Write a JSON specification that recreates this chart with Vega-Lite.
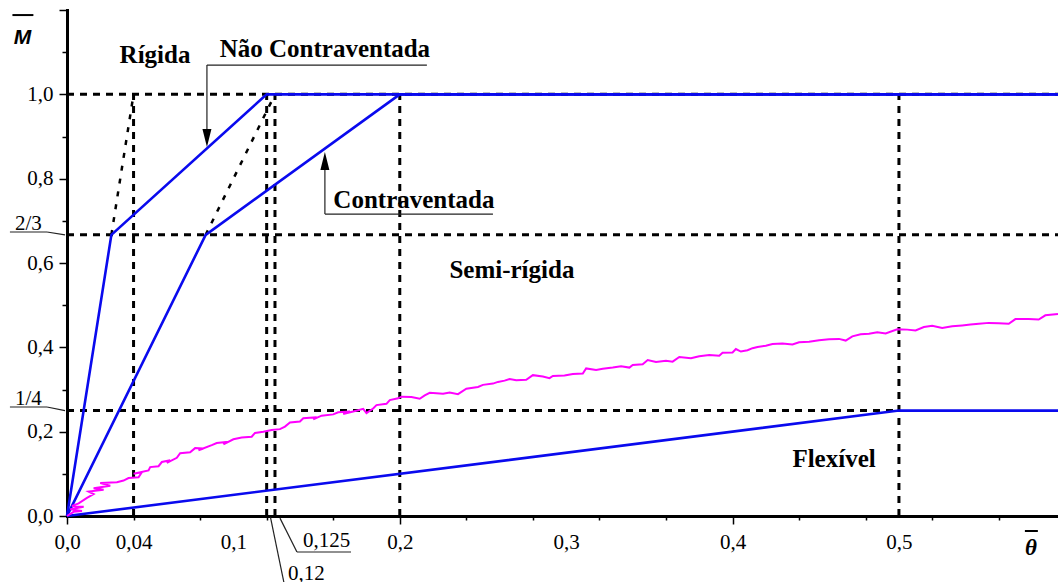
{
  "$schema": "https://vega.github.io/schema/vega-lite/v6.json",
  "width": 991,
  "height": 506,
  "autosize": "none",
  "padding": {"left": 67, "top": 10, "right": 0, "bottom": 66},
  "background": "white",
  "config": {"view": {"stroke": null}, "font": "Liberation Serif"},
  "datasets": {
    "guides": [
      {"x": 0, "x2": 0.5956, "y": 1, "y2": 1},
      {"x": 0, "x2": 0.5956, "y": 0.6667, "y2": 0.6667},
      {"x": 0, "x2": 0.5, "y": 0.25, "y2": 0.25},
      {"x": 0.04, "x2": 0.04, "y": 0, "y2": 1},
      {"x": 0.12, "x2": 0.12, "y": 0, "y2": 1},
      {"x": 0.125, "x2": 0.125, "y": 0, "y2": 1},
      {"x": 0.2, "x2": 0.2, "y": 0, "y2": 1},
      {"x": 0.5, "x2": 0.5, "y": 0, "y2": 1}
    ],
    "extensions": [
      {"x": 0.02667, "x2": 0.04, "y": 0.6667, "y2": 1},
      {"x": 0.08333, "x2": 0.125, "y": 0.6667, "y2": 1}
    ],
    "bounds": [
      {"curve": "Não Contraventada", "i": 0, "x": 0, "y": 0},
      {"curve": "Não Contraventada", "i": 1, "x": 0.02667, "y": 0.6667},
      {"curve": "Não Contraventada", "i": 2, "x": 0.12, "y": 1},
      {"curve": "Não Contraventada", "i": 3, "x": 0.5956, "y": 1},
      {"curve": "Contraventada", "i": 0, "x": 0, "y": 0},
      {"curve": "Contraventada", "i": 1, "x": 0.08333, "y": 0.6667},
      {"curve": "Contraventada", "i": 2, "x": 0.2, "y": 1},
      {"curve": "Contraventada", "i": 3, "x": 0.5956, "y": 1},
      {"curve": "Flexível", "i": 0, "x": 0, "y": 0},
      {"curve": "Flexível", "i": 1, "x": 0.5, "y": 0.25},
      {"curve": "Flexível", "i": 2, "x": 0.5956, "y": 0.25}
    ],
    "ensaio": [
      {"i": 0, "x": 0, "y": 0},
      {"i": 1, "x": 0.004, "y": 0.01},
      {"i": 2, "x": 0.009, "y": 0.012},
      {"i": 3, "x": 0.002, "y": 0.016},
      {"i": 4, "x": 0.01, "y": 0.022},
      {"i": 5, "x": 0.003, "y": 0.024},
      {"i": 6, "x": 0.007, "y": 0.03},
      {"i": 7, "x": 0.012, "y": 0.043},
      {"i": 8, "x": 0.016, "y": 0.052},
      {"i": 9, "x": 0.013, "y": 0.058},
      {"i": 10, "x": 0.022, "y": 0.062},
      {"i": 11, "x": 0.016, "y": 0.066},
      {"i": 12, "x": 0.026, "y": 0.072},
      {"i": 13, "x": 0.02, "y": 0.078},
      {"i": 14, "x": 0.03, "y": 0.08},
      {"i": 15, "x": 0.034, "y": 0.084},
      {"i": 16, "x": 0.037, "y": 0.09},
      {"i": 17, "x": 0.043, "y": 0.092},
      {"i": 18, "x": 0.045, "y": 0.104},
      {"i": 19, "x": 0.04, "y": 0.1},
      {"i": 20, "x": 0.049, "y": 0.108},
      {"i": 21, "x": 0.05, "y": 0.116},
      {"i": 22, "x": 0.055, "y": 0.118},
      {"i": 23, "x": 0.057, "y": 0.128},
      {"i": 24, "x": 0.062, "y": 0.132},
      {"i": 25, "x": 0.06, "y": 0.126},
      {"i": 26, "x": 0.066, "y": 0.138},
      {"i": 27, "x": 0.068, "y": 0.149},
      {"i": 28, "x": 0.074, "y": 0.151},
      {"i": 29, "x": 0.077, "y": 0.161},
      {"i": 30, "x": 0.082, "y": 0.16},
      {"i": 31, "x": 0.079, "y": 0.156},
      {"i": 32, "x": 0.087, "y": 0.168},
      {"i": 33, "x": 0.09, "y": 0.173},
      {"i": 34, "x": 0.097, "y": 0.176},
      {"i": 35, "x": 0.094, "y": 0.17},
      {"i": 36, "x": 0.1, "y": 0.182},
      {"i": 37, "x": 0.105, "y": 0.186},
      {"i": 38, "x": 0.111, "y": 0.188},
      {"i": 39, "x": 0.113, "y": 0.197},
      {"i": 40, "x": 0.118, "y": 0.2},
      {"i": 41, "x": 0.123, "y": 0.204},
      {"i": 42, "x": 0.128, "y": 0.206},
      {"i": 43, "x": 0.131, "y": 0.212},
      {"i": 44, "x": 0.134, "y": 0.222},
      {"i": 45, "x": 0.14, "y": 0.224},
      {"i": 46, "x": 0.142, "y": 0.232},
      {"i": 47, "x": 0.15, "y": 0.234},
      {"i": 48, "x": 0.148, "y": 0.229},
      {"i": 49, "x": 0.153, "y": 0.238},
      {"i": 50, "x": 0.16, "y": 0.241},
      {"i": 51, "x": 0.163, "y": 0.246},
      {"i": 52, "x": 0.17, "y": 0.248},
      {"i": 53, "x": 0.166, "y": 0.242},
      {"i": 54, "x": 0.175, "y": 0.251},
      {"i": 55, "x": 0.178, "y": 0.254},
      {"i": 56, "x": 0.18, "y": 0.244},
      {"i": 57, "x": 0.184, "y": 0.255},
      {"i": 58, "x": 0.186, "y": 0.263},
      {"i": 59, "x": 0.192, "y": 0.266},
      {"i": 60, "x": 0.194, "y": 0.275},
      {"i": 61, "x": 0.199, "y": 0.279},
      {"i": 62, "x": 0.201, "y": 0.283},
      {"i": 63, "x": 0.207, "y": 0.282},
      {"i": 64, "x": 0.212, "y": 0.278},
      {"i": 65, "x": 0.215, "y": 0.286},
      {"i": 66, "x": 0.218, "y": 0.292},
      {"i": 67, "x": 0.226, "y": 0.29},
      {"i": 68, "x": 0.23, "y": 0.293},
      {"i": 69, "x": 0.235, "y": 0.289},
      {"i": 70, "x": 0.24, "y": 0.302},
      {"i": 71, "x": 0.247, "y": 0.306},
      {"i": 72, "x": 0.25, "y": 0.311},
      {"i": 73, "x": 0.256, "y": 0.314},
      {"i": 74, "x": 0.259, "y": 0.318},
      {"i": 75, "x": 0.263, "y": 0.321},
      {"i": 76, "x": 0.266, "y": 0.325},
      {"i": 77, "x": 0.27, "y": 0.322},
      {"i": 78, "x": 0.276, "y": 0.323},
      {"i": 79, "x": 0.28, "y": 0.334},
      {"i": 80, "x": 0.286, "y": 0.331},
      {"i": 81, "x": 0.29, "y": 0.327},
      {"i": 82, "x": 0.292, "y": 0.332},
      {"i": 83, "x": 0.299, "y": 0.333},
      {"i": 84, "x": 0.304, "y": 0.337},
      {"i": 85, "x": 0.31, "y": 0.338},
      {"i": 86, "x": 0.312, "y": 0.35},
      {"i": 87, "x": 0.318, "y": 0.346},
      {"i": 88, "x": 0.322, "y": 0.349},
      {"i": 89, "x": 0.328, "y": 0.352},
      {"i": 90, "x": 0.333, "y": 0.355},
      {"i": 91, "x": 0.338, "y": 0.352},
      {"i": 92, "x": 0.34, "y": 0.358},
      {"i": 93, "x": 0.346, "y": 0.36},
      {"i": 94, "x": 0.349, "y": 0.37},
      {"i": 95, "x": 0.354, "y": 0.365},
      {"i": 96, "x": 0.36, "y": 0.368},
      {"i": 97, "x": 0.364, "y": 0.366},
      {"i": 98, "x": 0.368, "y": 0.377},
      {"i": 99, "x": 0.375, "y": 0.374},
      {"i": 100, "x": 0.38, "y": 0.379},
      {"i": 101, "x": 0.386, "y": 0.382},
      {"i": 102, "x": 0.392, "y": 0.38},
      {"i": 103, "x": 0.394, "y": 0.387},
      {"i": 104, "x": 0.4, "y": 0.388},
      {"i": 105, "x": 0.402, "y": 0.396},
      {"i": 106, "x": 0.405, "y": 0.39},
      {"i": 107, "x": 0.409, "y": 0.393},
      {"i": 108, "x": 0.412, "y": 0.398},
      {"i": 109, "x": 0.415, "y": 0.401},
      {"i": 110, "x": 0.42, "y": 0.404},
      {"i": 111, "x": 0.424, "y": 0.408},
      {"i": 112, "x": 0.43, "y": 0.409},
      {"i": 113, "x": 0.436, "y": 0.407},
      {"i": 114, "x": 0.44, "y": 0.412},
      {"i": 115, "x": 0.446, "y": 0.413},
      {"i": 116, "x": 0.452, "y": 0.417},
      {"i": 117, "x": 0.458, "y": 0.419},
      {"i": 118, "x": 0.464, "y": 0.42},
      {"i": 119, "x": 0.468, "y": 0.416},
      {"i": 120, "x": 0.472, "y": 0.426},
      {"i": 121, "x": 0.477, "y": 0.431},
      {"i": 122, "x": 0.482, "y": 0.432},
      {"i": 123, "x": 0.487, "y": 0.436},
      {"i": 124, "x": 0.492, "y": 0.433},
      {"i": 125, "x": 0.499, "y": 0.443},
      {"i": 126, "x": 0.505, "y": 0.442},
      {"i": 127, "x": 0.51, "y": 0.44},
      {"i": 128, "x": 0.515, "y": 0.448},
      {"i": 129, "x": 0.52, "y": 0.451},
      {"i": 130, "x": 0.526, "y": 0.446},
      {"i": 131, "x": 0.532, "y": 0.45},
      {"i": 132, "x": 0.538, "y": 0.452},
      {"i": 133, "x": 0.543, "y": 0.454},
      {"i": 134, "x": 0.548, "y": 0.456},
      {"i": 135, "x": 0.554, "y": 0.458},
      {"i": 136, "x": 0.56, "y": 0.457},
      {"i": 137, "x": 0.566, "y": 0.456},
      {"i": 138, "x": 0.57, "y": 0.467},
      {"i": 139, "x": 0.578, "y": 0.467},
      {"i": 140, "x": 0.584, "y": 0.466},
      {"i": 141, "x": 0.588, "y": 0.476},
      {"i": 142, "x": 0.5956, "y": 0.479}
    ],
    "notes": [
      {"x": 0.0529, "y": 1.093, "text": "Rígida"},
      {"x": 0.155, "y": 1.107, "text": "Não Contraventada"},
      {"x": 0.2085, "y": 0.749, "text": "Contraventada"},
      {"x": 0.2674, "y": 0.583, "text": "Semi-rígida"},
      {"x": 0.461, "y": 0.135, "text": "Flexível"}
    ],
    "leaders": [
      {"x": 0.0841, "y": 1.0695, "x2": 0.2163, "y2": 1.0695},
      {"x": 0.0841, "y": 1.0695, "x2": 0.0841, "y2": 0.9177},
      {"x": 0.155, "y": 0.716, "x2": 0.256, "y2": 0.716},
      {"x": 0.155, "y": 0.716, "x2": 0.155, "y2": 0.8205},
      {"x": 0.1223, "y": -0.003, "x2": 0.1313, "y2": -0.1755},
      {"x": 0.128, "y": -0.005, "x2": 0.1382, "y2": -0.0854},
      {"x": 0.1382, "y": -0.0854, "x2": 0.1707, "y2": -0.0854},
      {"x": -0.0343, "y": 0.6735, "x2": -0.012, "y2": 0.6735},
      {"x": -0.012, "y": 0.6735, "x2": -0.0012, "y2": 0.6667},
      {"x": -0.0343, "y": 0.2585, "x2": -0.012, "y2": 0.2585},
      {"x": -0.012, "y": 0.2585, "x2": -0.0012, "y2": 0.25}
    ],
    "arrows": [
      {"x": 0.0841, "y": 0.8964, "dir": "down"},
      {"x": 0.155, "y": 0.8418, "dir": "up"}
    ],
    "marks": [
      {"x": 0.1328, "y": -0.1518, "text": "0,12"},
      {"x": 0.1418, "y": -0.0735, "text": "0,125"},
      {"x": -0.03125, "y": 0.678, "text": "2/3"},
      {"x": -0.03125, "y": 0.263, "text": "1/4"}
    ],
    "bars": [
      {"x": -0.0328, "x2": -0.0202, "y": 1.188},
      {"x": 0.5757, "x2": 0.5835, "y": -0.0356}
    ]
  },
  "resolve": {"axis": {"x": "independent", "y": "independent"}},
  "layer": [
    {
      "layer": [
        {
          "data": {"name": "guides"},
          "mark": {"type": "rule", "color": "black", "strokeWidth": 3, "strokeDash": [7, 6]},
          "encoding": {
            "x": {
              "field": "x", "type": "quantitative",
              "scale": {"domain": [0, 0.5956], "nice": false, "zero": false},
              "axis": {
                "title": null, "grid": false, "orient": "bottom", "labels": false,
                "values": [0, 0.01, 0.02, 0.03, 0.04, 0.05, 0.06, 0.07, 0.08, 0.09, 0.1, 0.11, 0.12, 0.13, 0.14, 0.15, 0.16, 0.17, 0.18, 0.19, 0.2, 0.21, 0.22, 0.23, 0.24, 0.25, 0.26, 0.27, 0.28, 0.29, 0.3, 0.31, 0.32, 0.33, 0.34, 0.35, 0.36, 0.37, 0.38, 0.39, 0.4, 0.41, 0.42, 0.43, 0.44, 0.45, 0.46, 0.47, 0.48, 0.49, 0.5, 0.51, 0.52, 0.53, 0.54, 0.55, 0.56, 0.57, 0.58, 0.59],
                "domainColor": "black", "domainWidth": 3, "domainCap": "square",
                "tickColor": "black", "tickWidth": 1.5,
                "tickSize": {"condition": {"test": "abs(datum.value * 10 - round(datum.value * 10)) < 1e-6", "value": 8}, "value": 4}
              }
            },
            "y": {
              "field": "y", "type": "quantitative",
              "scale": {"domain": [0, 1.2], "nice": false, "zero": false},
              "axis": {
                "title": null, "grid": false, "orient": "left", "labels": false,
                "values": [0, 0.05, 0.1, 0.15, 0.2, 0.25, 0.3, 0.35, 0.4, 0.45, 0.5, 0.55, 0.6, 0.65, 0.7, 0.75, 0.8, 0.85, 0.9, 0.95, 1, 1.05, 1.1, 1.15, 1.2],
                "domainColor": "black", "domainWidth": 3, "domainCap": "square",
                "tickColor": "black", "tickWidth": 1.5,
                "tickSize": {"condition": {"test": "abs(datum.value * 5 - round(datum.value * 5)) < 1e-6", "value": 8}, "value": 5}
              }
            },
            "x2": {"field": "x2"},
            "y2": {"field": "y2"}
          }
        },
        {
          "data": {"name": "extensions"},
          "mark": {"type": "rule", "color": "black", "strokeWidth": 2.5, "strokeDash": [5, 8]},
          "encoding": {
            "x": {"field": "x", "type": "quantitative"},
            "y": {"field": "y", "type": "quantitative"},
            "x2": {"field": "x2"},
            "y2": {"field": "y2"}
          }
        },
        {
          "data": {"name": "bounds"},
          "mark": {"type": "line", "color": "#0a0aee", "strokeWidth": 2.6},
          "encoding": {
            "x": {"field": "x", "type": "quantitative"},
            "y": {"field": "y", "type": "quantitative"},
            "detail": {"field": "curve"},
            "order": {"field": "i", "type": "quantitative"}
          }
        },
        {
          "data": {"name": "leaders"},
          "mark": {"type": "rule", "color": "#222222", "strokeWidth": 1.2},
          "encoding": {
            "x": {"field": "x", "type": "quantitative"},
            "y": {"field": "y", "type": "quantitative"},
            "x2": {"field": "x2"},
            "y2": {"field": "y2"}
          }
        },
        {
          "data": {"name": "arrows"},
          "mark": {"type": "point", "filled": true, "color": "black", "opacity": 1, "size": 324, "strokeWidth": 0},
          "encoding": {
            "x": {"field": "x", "type": "quantitative"},
            "y": {"field": "y", "type": "quantitative"},
            "shape": {
              "field": "dir", "type": "nominal", "legend": null,
              "scale": {"domain": ["down", "up"], "range": ["M-0.5,-1L0.5,-1L0,1Z", "M-0.5,1L0.5,1L0,-1Z"]}
            }
          }
        },
        {
          "data": {"name": "notes"},
          "mark": {"type": "text", "font": "Liberation Serif", "fontWeight": "bold", "fontSize": 25, "align": "center", "baseline": "middle", "color": "black"},
          "encoding": {
            "x": {"field": "x", "type": "quantitative"},
            "y": {"field": "y", "type": "quantitative"},
            "text": {"field": "text"}
          }
        },
        {
          "data": {"name": "marks"},
          "mark": {"type": "text", "font": "Liberation Serif", "fontSize": 21, "align": "left", "baseline": "alphabetic", "color": "black"},
          "encoding": {
            "x": {"field": "x", "type": "quantitative"},
            "y": {"field": "y", "type": "quantitative"},
            "text": {"field": "text"}
          }
        },
        {
          "data": {"values": [{"x": -0.0267, "y": 1.119, "text": "M"}]},
          "mark": {"type": "text", "font": "Liberation Sans", "fontWeight": "bold", "fontStyle": "italic", "fontSize": 21, "align": "center", "baseline": "alphabetic", "color": "black"},
          "encoding": {
            "x": {"field": "x", "type": "quantitative"},
            "y": {"field": "y", "type": "quantitative"},
            "text": {"field": "text"}
          }
        },
        {
          "data": {"values": [{"x": 0.5793, "y": -0.0925, "text": "θ"}]},
          "mark": {"type": "text", "font": "Liberation Serif", "fontWeight": "bold", "fontStyle": "italic", "fontSize": 23, "align": "center", "baseline": "alphabetic", "color": "black"},
          "encoding": {
            "x": {"field": "x", "type": "quantitative"},
            "y": {"field": "y", "type": "quantitative"},
            "text": {"field": "text"}
          }
        },
        {
          "data": {"name": "bars"},
          "mark": {"type": "rule", "color": "black", "strokeWidth": 2},
          "encoding": {
            "x": {"field": "x", "type": "quantitative"},
            "x2": {"field": "x2"},
            "y": {"field": "y", "type": "quantitative"}
          }
        },
        {
          "mark": {"type": "rule", "color": "black", "strokeWidth": 3},
          "encoding": {"y": {"datum": 1.2, "type": "quantitative"}}
        }
      ]
    },
    {
      "data": {"name": "ensaio"},
      "mark": {"type": "line", "color": "#ff00ff", "strokeWidth": 2},
      "encoding": {
        "x": {
          "field": "x", "type": "quantitative",
          "axis": {
            "title": null, "grid": false, "orient": "bottom", "domain": false, "ticks": false,
            "values": [0, 0.04, 0.1, 0.2, 0.3, 0.4, 0.5],
            "labelExpr": "datum.value == 0.04 ? '0,04' : replace(format(datum.value, '.1f'), '.', ',')",
            "labelFont": "Liberation Serif", "labelFontSize": 21, "labelColor": "black",
            "labelPadding": 15, "labelOverlap": false, "labelFlush": false, "labelBound": false
          }
        },
        "y": {
          "field": "y", "type": "quantitative",
          "axis": {
            "title": null, "grid": false, "orient": "left", "domain": false, "ticks": false,
            "values": [0, 0.2, 0.4, 0.6, 0.8, 1],
            "labelExpr": "replace(format(datum.value, '.1f'), '.', ',')",
            "labelFont": "Liberation Serif", "labelFontSize": 21, "labelColor": "black",
            "labelPadding": 14, "labelOverlap": false, "labelFlush": false, "labelBound": false
          }
        },
        "order": {"field": "i", "type": "quantitative"}
      }
    }
  ]
}
